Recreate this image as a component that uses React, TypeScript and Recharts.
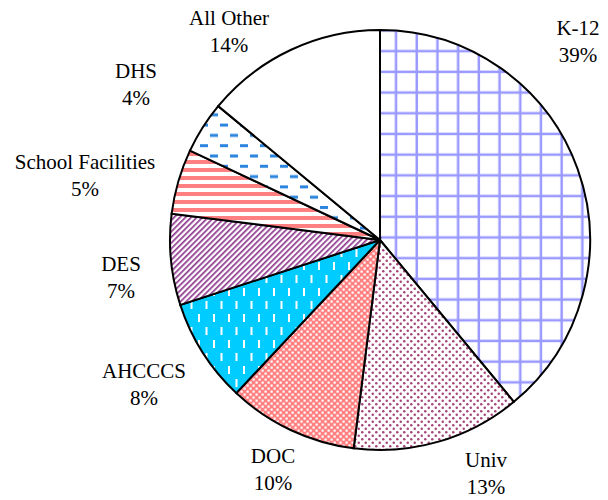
import { PieChart, Pie, Cell } from 'recharts';

const CATEGORIES = ['K-12', 'Univ', 'DOC', 'AHCCCS', 'DES', 'School Facilities', 'DHS', 'All Other'];
const SHARES = [39, 13, 10, 8, 7, 5, 4, 14];
const PERCENT_LABELS = ['39%', '13%', '10%', '8%', '7%', '5%', '4%', '14%'];

// where each label's first baseline sits, relative to the pie centre
const LABEL_OFFSETS: [number, number][] = [
  [198, -205],
  [106, 227],
  [-107, 223],
  [-236, 138],
  [-259, 31],
  [-295, -71],
  [-244, -162],
  [-151, -215],
];
const LINE_GAP = 27;

const FILLS = [
  'url(#grid)',
  'url(#dots)',
  'url(#checker)',
  'url(#vdash)',
  'url(#diag)',
  'url(#hstripe)',
  'url(#hdash)',
  '#ffffff',
];

const data = CATEGORIES.map((name, i) => ({ name, value: SHARES[i], pct: PERCENT_LABELS[i] }));

const FONT = "'Liberation Serif', 'Times New Roman', Times, serif";

const renderLabel = (props: any) => {
  const { cx, cy, index } = props;
  const [dx, dy] = LABEL_OFFSETS[index];
  const x = cx + dx;
  const y = cy + dy;
  return (
    <text x={x} y={y} textAnchor="middle" style={{ fontFamily: FONT, fontSize: 21 }} fill="#000">
      <tspan x={x} y={y}>{data[index].name}</tspan>
      <tspan x={x} y={y + LINE_GAP}>{data[index].pct}</tspan>
    </text>
  );
};

const App = () => {
  return (
    <div style={{ marginTop: -8, marginLeft: -8, width: 608, height: 500, fontFamily: FONT }}>
      <PieChart width={608} height={500} margin={{ top: 0, right: 0, bottom: 0, left: 0 }}>
        <defs>
          <pattern id="grid" patternUnits="userSpaceOnUse" width={20.7} height={20.7}>
            <rect width={20.7} height={20.7} fill="#fff" />
            <rect x={1.5} y={0} width={2.5} height={20.7} fill="#9999ff" />
            <rect x={0} y={8.5} width={20.7} height={2.5} fill="#9999ff" />
          </pattern>
          <pattern id="dots" patternUnits="userSpaceOnUse" width={7} height={7}>
            <rect width={7} height={7} fill="#fff" />
            <circle cx={1.75} cy={1.75} r={1.25} fill="#a4447a" />
            <circle cx={5.25} cy={5.25} r={1.25} fill="#a4447a" />
          </pattern>
          <pattern id="checker" patternUnits="userSpaceOnUse" width={6} height={6}>
            <rect width={6} height={6} fill="#ff8080" />
            <rect x={0.5} y={0.5} width={2.2} height={2.2} fill="#fff" />
            <rect x={3.5} y={3.5} width={2.2} height={2.2} fill="#fff" />
          </pattern>
          <pattern id="vdash" patternUnits="userSpaceOnUse" width={15} height={26}>
            <rect width={15} height={26} fill="#00ccff" />
            <rect x={3} y={2} width={2} height={8} fill="#fff" />
            <rect x={10.5} y={15} width={2} height={8} fill="#fff" />
          </pattern>
          <pattern id="diag" patternUnits="userSpaceOnUse" width={4} height={4} patternTransform="rotate(45)">
            <rect width={4} height={4} fill="#fff" />
            <rect x={0} y={0} width={1.7} height={4} fill="#8f3a8f" />
          </pattern>
          <pattern id="hstripe" patternUnits="userSpaceOnUse" width={8} height={8}>
            <rect width={8} height={8} fill="#fff" />
            <rect x={0} y={0} width={8} height={4} fill="#ff8080" />
          </pattern>
          <pattern id="hdash" patternUnits="userSpaceOnUse" width={20} height={20.6}>
            <rect width={20} height={20.6} fill="#fff" />
            <rect x={0} y={0} width={8} height={3} fill="#2b84dd" />
            <rect x={10} y={10.3} width={8} height={3} fill="#2b84dd" />
          </pattern>
        </defs>
        <Pie
          data={data}
          dataKey="value"
          nameKey="name"
          cx={380}
          cy={240}
          outerRadius={210}
          startAngle={90}
          endAngle={-270}
          stroke="#000"
          strokeWidth={2}
          label={renderLabel}
          labelLine={false}
          isAnimationActive={false}
        >
          {data.map((d, i) => (
            <Cell key={d.name} fill={FILLS[i]} stroke="#000" strokeWidth={2} />
          ))}
        </Pie>
      </PieChart>
    </div>
  );
};

export default App;
